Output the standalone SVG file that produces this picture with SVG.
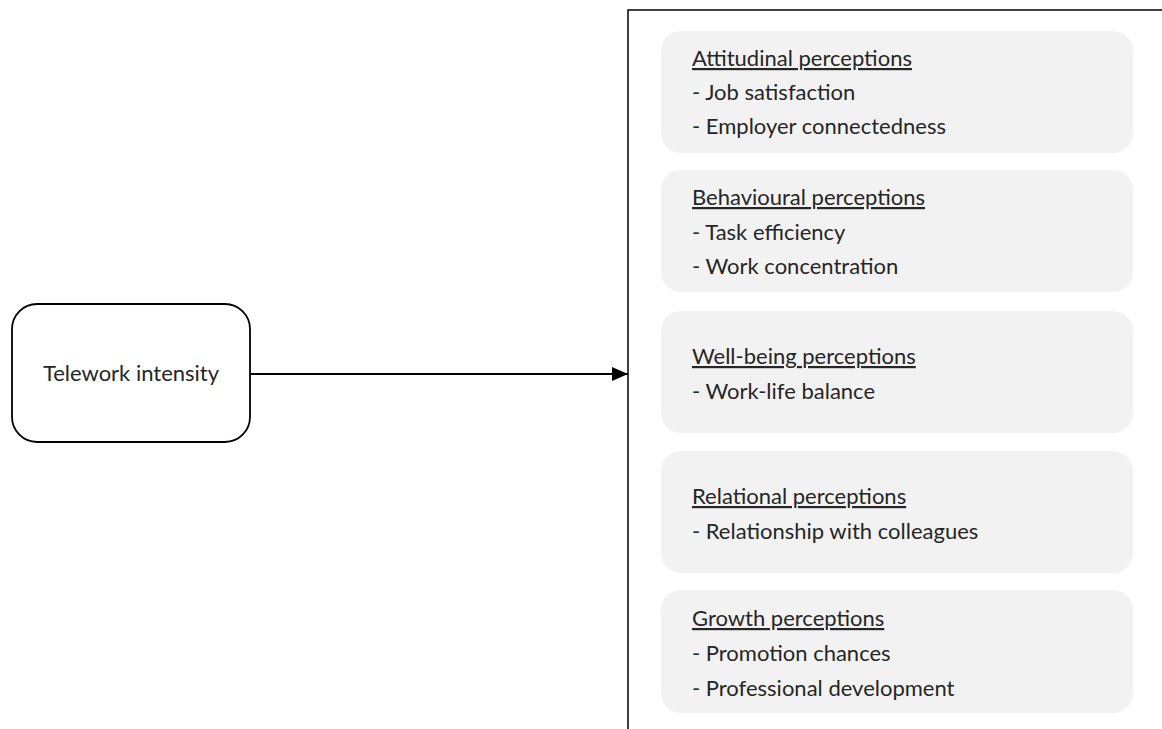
<svg xmlns="http://www.w3.org/2000/svg" width="1162" height="729" viewBox="0 0 1162 729">
<style>
.t{font-family:Lato,"Liberation Sans",sans-serif;font-size:22px;fill:#262626}
.h{text-decoration:underline}
.card{fill:#f2f2f2}
</style>
<defs>
<marker id="ah" markerWidth="16" markerHeight="14" refX="16" refY="7" orient="auto" markerUnits="userSpaceOnUse">
<path d="M0,0 L16,7 L0,14 Z" fill="#000"/>
</marker>
</defs>
<rect width="1162" height="729" fill="#fff"/>
<g id="frame">
<path d="M628,729 L628,10 L1170,10" fill="none" stroke="#000" stroke-width="1.5"/>
</g>
<g id="telework">
<rect x="12" y="304" width="238" height="138" rx="25" fill="#fff" stroke="#000" stroke-width="1.8"/>
<text class="t" x="131" y="381" text-anchor="middle">Telework intensity</text>
</g>
<g id="connectors">
<line x1="250" y1="374" x2="628" y2="374" stroke="#000" stroke-width="1.8" marker-end="url(#ah)"/>
</g>
<g id="attitudinal">
<rect class="card" x="661" y="31" width="472" height="122" rx="20"/>
<text class="t h" x="692" y="66">Attitudinal perceptions</text>
<text class="t" x="692" y="100">- Job satisfaction</text>
<text class="t" x="692" y="134">- Employer connectedness</text>
</g>
<g id="behavioural">
<rect class="card" x="661" y="170" width="472" height="122" rx="20"/>
<text class="t h" x="692" y="205">Behavioural perceptions</text>
<text class="t" x="692" y="240">- Task efficiency</text>
<text class="t" x="692" y="274">- Work concentration</text>
</g>
<g id="wellbeing">
<rect class="card" x="661" y="311" width="472" height="122" rx="20"/>
<text class="t h" x="692" y="364">Well-being perceptions</text>
<text class="t" x="692" y="399">- Work-life balance</text>
</g>
<g id="relational">
<rect class="card" x="661" y="451" width="472" height="122" rx="20"/>
<text class="t h" x="692" y="504">Relational perceptions</text>
<text class="t" x="692" y="539">- Relationship with colleagues</text>
</g>
<g id="growth">
<rect class="card" x="661" y="590" width="472" height="123" rx="20"/>
<text class="t h" x="692" y="626">Growth perceptions</text>
<text class="t" x="692" y="661">- Promotion chances</text>
<text class="t" x="692" y="696">- Professional development</text>
</g>
</svg>
